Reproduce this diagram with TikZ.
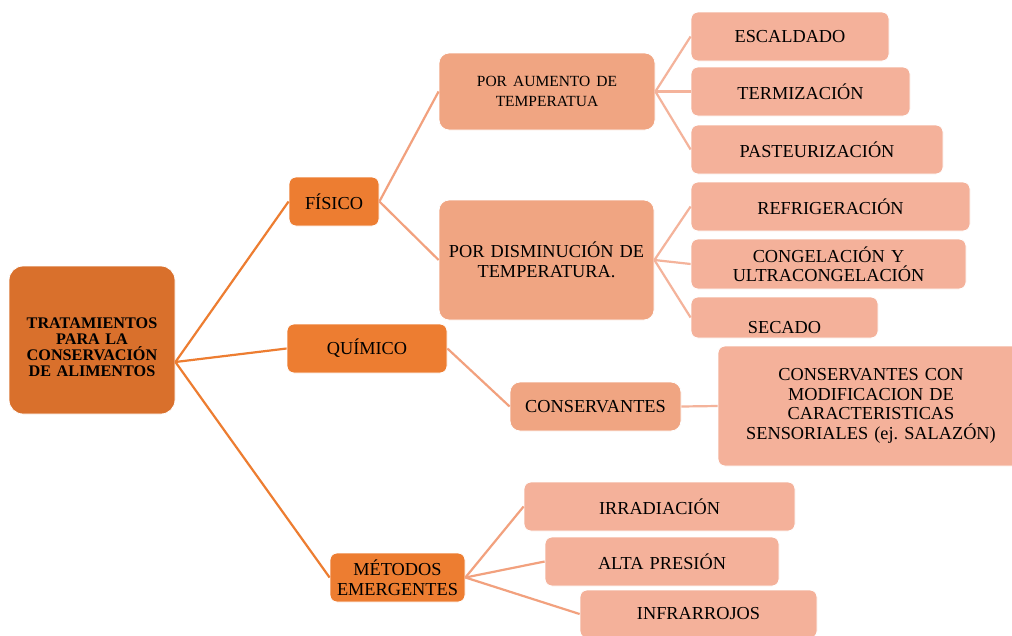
\documentclass[tikz,border=0pt]{standalone}
\usepackage{fontspec}
\setmainfont{Liberation Serif}
\frenchspacing
\definecolor{rootc}{HTML}{D9702C}
\definecolor{lvone}{HTML}{ED7D31}
\definecolor{lvtwo}{HTML}{F0A582}
\definecolor{leafc}{HTML}{F4B19A}
\definecolor{linetwo}{HTML}{F2A17E}
\definecolor{linethree}{HTML}{F4B39B}
\tikzset{
  bx/.style={draw=white, line width=0.8pt, rounded corners=7pt, align=center, inner sep=2pt, text=black},
  rootbox/.style={bx, fill=rootc, rounded corners=14pt, font=\fontsize{16.2}{16}\selectfont\bfseries},
  onebox/.style={bx, fill=lvone, font=\fontsize{18.3}{19.5}\selectfont},
  twobox/.style={bx, fill=lvtwo, rounded corners=10pt, font=\fontsize{18.3}{19.5}\selectfont},
  leafbox/.style={bx, fill=leafc, font=\fontsize{18.3}{19.5}\selectfont},
  conone/.style={draw=lvone, line width=2.2pt},
  contwo/.style={draw=linetwo, line width=2.2pt},
  conthree/.style={draw=linethree, line width=2.2pt},
}
\newcommand{\bxnode}[7]{\node[#1, minimum width=#4pt, minimum height=#5pt, text width=#6pt] (#2) at (#3) {#7};}
\begin{document}
\begin{tikzpicture}[x=1pt,y=-1pt]
\clip (0,0) rectangle (1012,635);
\fill[white] (0,0) rectangle (1012,635);
\coordinate (rootE) at (173,362);
\bxnode{rootbox}{root}{92,340}{166}{148}{150}{\raisebox{-12pt}[0pt][0pt]{\parbox{150pt}{\centering TRATAMIENTOS\\PARA LA\\CONSERVACIÓN\\DE ALIMENTOS}}}
\bxnode{onebox}{fis}{334,201.5}{90}{49}{86}{FÍSICO}
\bxnode{onebox}{qui}{367,348.5}{160}{49}{150}{QUÍMICO}
\bxnode{onebox}{met}{397.5,577.5}{135}{49}{130}{MÉTODOS\\EMERGENTES}
\bxnode{twobox}{aum}{547,91.5}{216}{77}{200}{\fontsize{15.5}{16}\selectfont POR AUMENTO DE\\TEMPERATUA}
\bxnode{twobox}{dis}{546.5,260}{215}{120}{210}{POR DISMINUCIÓN DE\\TEMPERATURA.}
\bxnode{twobox}{cons}{595.5,406.5}{171}{49}{165}{CONSERVANTES}
\bxnode{leafbox}{esc}{790,36.5}{198}{49}{190}{ESCALDADO}
\bxnode{leafbox}{ter}{800.5,91.5}{219}{49}{210}{TERMIZACIÓN}
\bxnode{leafbox}{pas}{817,149.5}{252}{49}{240}{PASTEURIZACIÓN}
\bxnode{leafbox}{ref}{830.5,206.5}{279}{49}{270}{REFRIGERACIÓN}
\bxnode{leafbox}{cong}{828.5,264}{275}{50}{270}{CONGELACIÓN Y\\ULTRACONGELACIÓN}
\bxnode{leafbox}{sec}{784.5,317.5}{187}{41}{180}{\raisebox{-16pt}[0pt][0pt]{SECADO}}
\bxnode{leafbox}{mod}{871,406}{306}{120}{290}{CONSERVANTES CON\\MODIFICACION DE\\CARACTERISTICAS\\SENSORIALES (ej. SALAZÓN)}
\bxnode{leafbox}{irr}{659.5,506.5}{271}{49}{260}{IRRADIACIÓN}
\bxnode{leafbox}{alt}{662,561.5}{234}{49}{225}{ALTA PRESIÓN}
\bxnode{leafbox}{inf}{698.5,614}{237}{48}{230}{INFRARROJOS}
\path[conone] (root.east |- rootE) -- (fis.west);
\path[conone] (root.east |- rootE) -- (qui.west);
\path[conone] (root.east |- rootE) -- (met.west);
\path[contwo] (fis.east) -- (aum.west);
\path[contwo] (fis.east) -- (dis.west);
\path[contwo] (qui.east) -- (cons.west);
\path[contwo] (met.east) -- (irr.west);
\path[contwo] (met.east) -- (alt.west);
\path[contwo] (met.east) -- (inf.west);
\path[conthree] (aum.east) -- (esc.west);
\path[conthree] (aum.east) -- (ter.west);
\path[conthree] (aum.east) -- (pas.west);
\path[conthree] (dis.east) -- (ref.west);
\path[conthree] (dis.east) -- (cong.west);
\path[conthree] (dis.east) -- (sec.west);
\path[conthree] (cons.east) -- (mod.west);
\end{tikzpicture}
\end{document}
